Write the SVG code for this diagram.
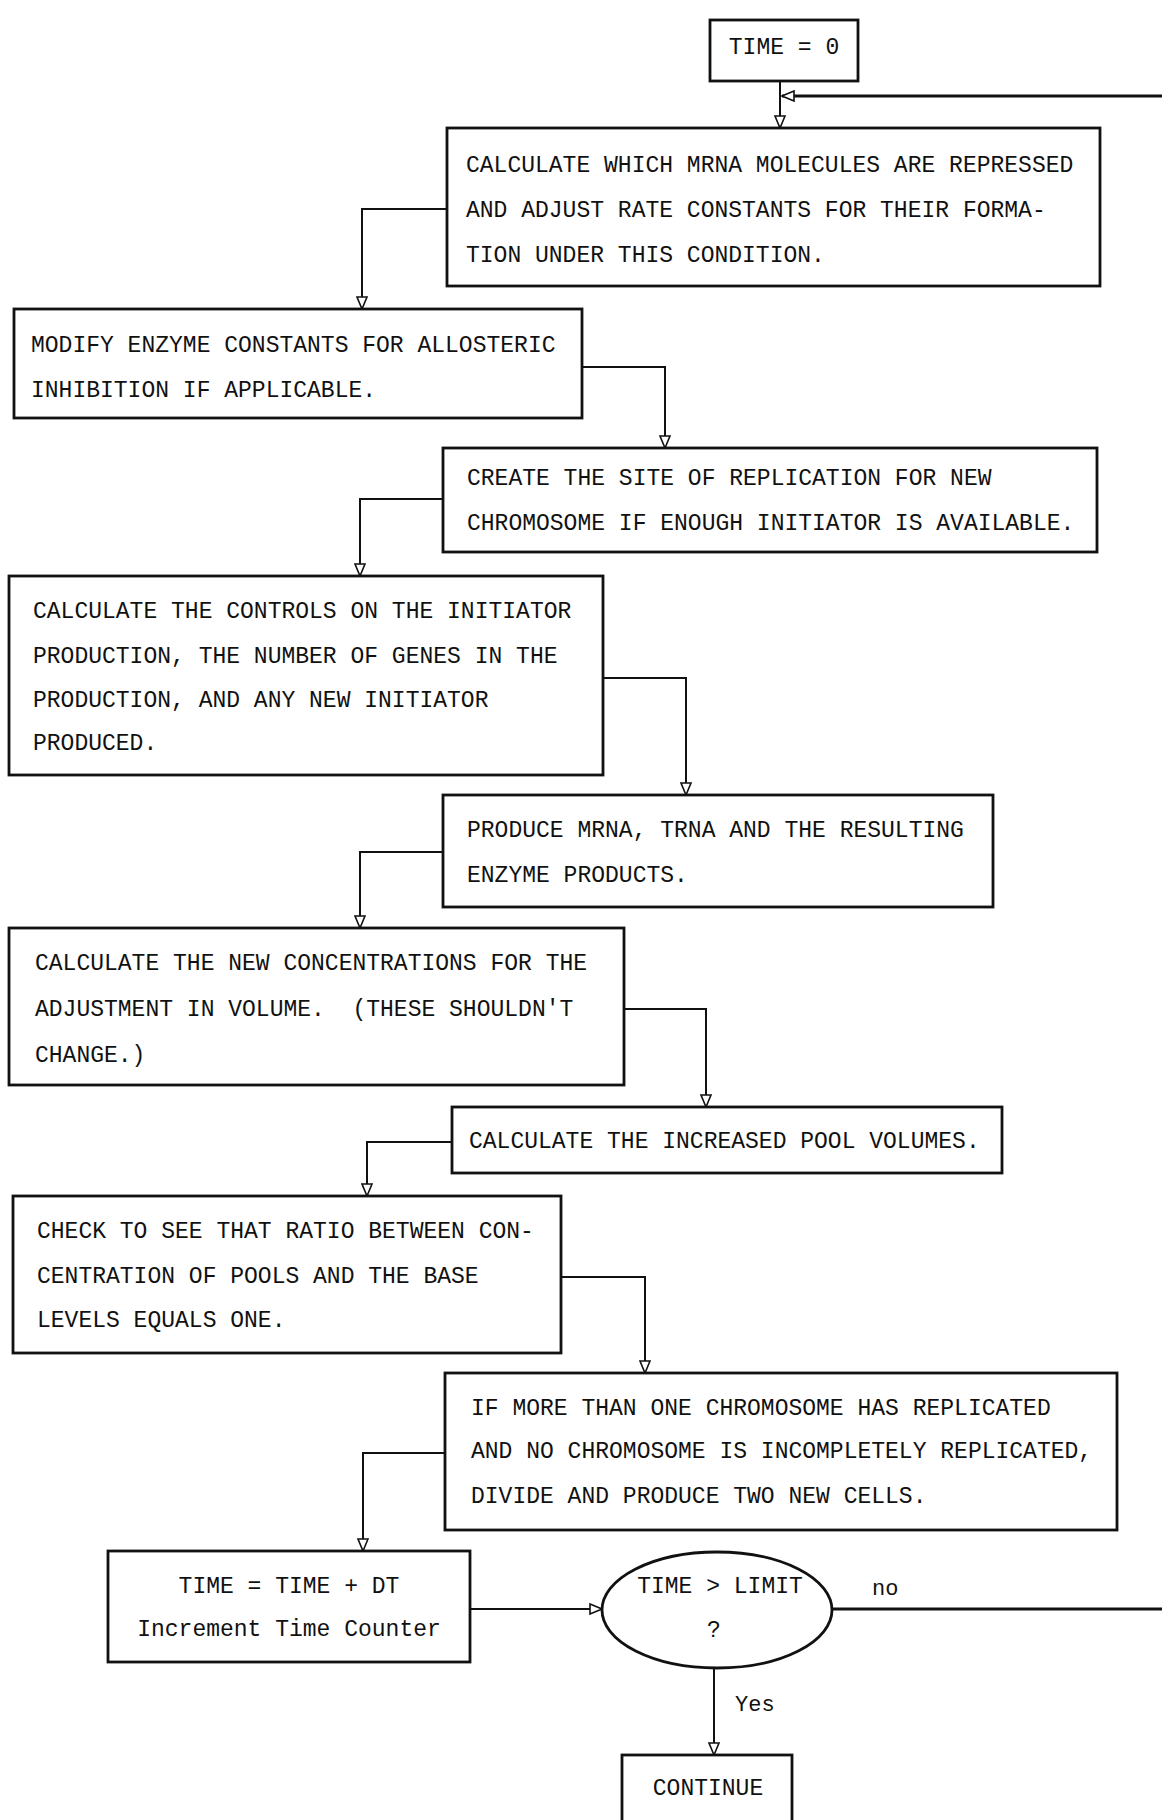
<svg xmlns="http://www.w3.org/2000/svg" width="1162" height="1820" viewBox="0 0 1162 1820">
<style>
.bg{fill:#ffffff}
.box{fill:#ffffff;stroke:#111111;stroke-width:2.8}
.t{font-family:"Liberation Mono","DejaVu Sans Mono",monospace;font-size:23px;fill:#111111;white-space:pre}
.tl{font-family:"Liberation Mono","DejaVu Sans Mono",monospace;font-size:22px;fill:#111111;white-space:pre}
.c{text-anchor:middle}
.ln{fill:none;stroke:#111111;stroke-width:2}
.thick{fill:none;stroke:#111111;stroke-width:3}
</style>
<defs>
<marker id="arr" markerUnits="userSpaceOnUse" markerWidth="14" markerHeight="12" refX="13" refY="6" orient="auto">
<path d="M1,1 L13,6 L1,11 Z" fill="#ffffff" stroke="#111111" stroke-width="1.6"/>
</marker>
</defs>
<rect class="bg" x="0" y="0" width="1162" height="1820"/>

<g id="connectors">
<path class="ln" d="M780,81 L780,128" marker-end="url(#arr)"/>
<path class="thick" d="M1162,96 L782,96" marker-end="url(#arr)"/>
<path class="ln" d="M447,209 L362,209 L362,309" marker-end="url(#arr)"/>
<path class="ln" d="M582,367 L665,367 L665,448" marker-end="url(#arr)"/>
<path class="ln" d="M443,499 L360,499 L360,576" marker-end="url(#arr)"/>
<path class="ln" d="M603,678 L686,678 L686,795" marker-end="url(#arr)"/>
<path class="ln" d="M443,852 L360,852 L360,928" marker-end="url(#arr)"/>
<path class="ln" d="M624,1009 L706,1009 L706,1107" marker-end="url(#arr)"/>
<path class="ln" d="M452,1142 L367,1142 L367,1196" marker-end="url(#arr)"/>
<path class="ln" d="M561,1277 L645,1277 L645,1373" marker-end="url(#arr)"/>
<path class="ln" d="M445,1453 L363,1453 L363,1551" marker-end="url(#arr)"/>
<path class="ln" d="M470,1609 L602,1609" marker-end="url(#arr)"/>
<path class="thick" d="M832,1609 L1162,1609"/>
<path class="ln" d="M714,1668 L714,1755" marker-end="url(#arr)"/>
<text class="tl" x="872" y="1595">no</text>
<text class="tl" x="735" y="1711">Yes</text>
</g>

<g id="n1">
<rect class="box" x="710" y="20" width="148" height="61"/>
<text class="t c" x="784" y="54">TIME = 0</text>
</g>

<g id="n2">
<rect class="box" x="447" y="128" width="653" height="158"/>
<text class="t" x="466" y="172">CALCULATE WHICH MRNA MOLECULES ARE REPRESSED</text>
<text class="t" x="466" y="217">AND ADJUST RATE CONSTANTS FOR THEIR FORMA-</text>
<text class="t" x="466" y="262">TION UNDER THIS CONDITION.</text>
</g>

<g id="n3">
<rect class="box" x="14" y="309" width="568" height="109"/>
<text class="t" x="31" y="352">MODIFY ENZYME CONSTANTS FOR ALLOSTERIC</text>
<text class="t" x="31" y="397">INHIBITION IF APPLICABLE.</text>
</g>

<g id="n4">
<rect class="box" x="443" y="448" width="654" height="104"/>
<text class="t" x="467" y="485">CREATE THE SITE OF REPLICATION FOR NEW</text>
<text class="t" x="467" y="530">CHROMOSOME IF ENOUGH INITIATOR IS AVAILABLE.</text>
</g>

<g id="n5">
<rect class="box" x="9" y="576" width="594" height="199"/>
<text class="t" x="33" y="618">CALCULATE THE CONTROLS ON THE INITIATOR</text>
<text class="t" x="33" y="663">PRODUCTION, THE NUMBER OF GENES IN THE</text>
<text class="t" x="33" y="707">PRODUCTION, AND ANY NEW INITIATOR</text>
<text class="t" x="33" y="750">PRODUCED.</text>
</g>

<g id="n6">
<rect class="box" x="443" y="795" width="550" height="112"/>
<text class="t" x="467" y="837">PRODUCE MRNA, TRNA AND THE RESULTING</text>
<text class="t" x="467" y="882">ENZYME PRODUCTS.</text>
</g>

<g id="n7">
<rect class="box" x="9" y="928" width="615" height="157"/>
<text class="t" x="35" y="970">CALCULATE THE NEW CONCENTRATIONS FOR THE</text>
<text class="t" x="35" y="1016">ADJUSTMENT IN VOLUME.  (THESE SHOULDN'T</text>
<text class="t" x="35" y="1062">CHANGE.)</text>
</g>

<g id="n8">
<rect class="box" x="452" y="1107" width="550" height="66"/>
<text class="t" x="469" y="1148">CALCULATE THE INCREASED POOL VOLUMES.</text>
</g>

<g id="n9">
<rect class="box" x="13" y="1196" width="548" height="157"/>
<text class="t" x="37" y="1238">CHECK TO SEE THAT RATIO BETWEEN CON-</text>
<text class="t" x="37" y="1283">CENTRATION OF POOLS AND THE BASE</text>
<text class="t" x="37" y="1327">LEVELS EQUALS ONE.</text>
</g>

<g id="n10">
<rect class="box" x="445" y="1373" width="672" height="157"/>
<text class="t" x="471" y="1415">IF MORE THAN ONE CHROMOSOME HAS REPLICATED</text>
<text class="t" x="471" y="1458">AND NO CHROMOSOME IS INCOMPLETELY REPLICATED,</text>
<text class="t" x="471" y="1503">DIVIDE AND PRODUCE TWO NEW CELLS.</text>
</g>

<g id="n11">
<rect class="box" x="108" y="1551" width="362" height="111"/>
<text class="t c" x="289" y="1593">TIME = TIME + DT</text>
<text class="t c" x="289" y="1636">Increment Time Counter</text>
</g>

<g id="n12">
<ellipse class="box" cx="717" cy="1610" rx="115" ry="58"/>
<text class="t c" x="720" y="1593">TIME &gt; LIMIT</text>
<text class="t c" x="714" y="1637">?</text>
</g>

<g id="n13">
<rect class="box" x="622" y="1755" width="170" height="80"/>
<text class="t c" x="708" y="1795">CONTINUE</text>
</g>
</svg>
